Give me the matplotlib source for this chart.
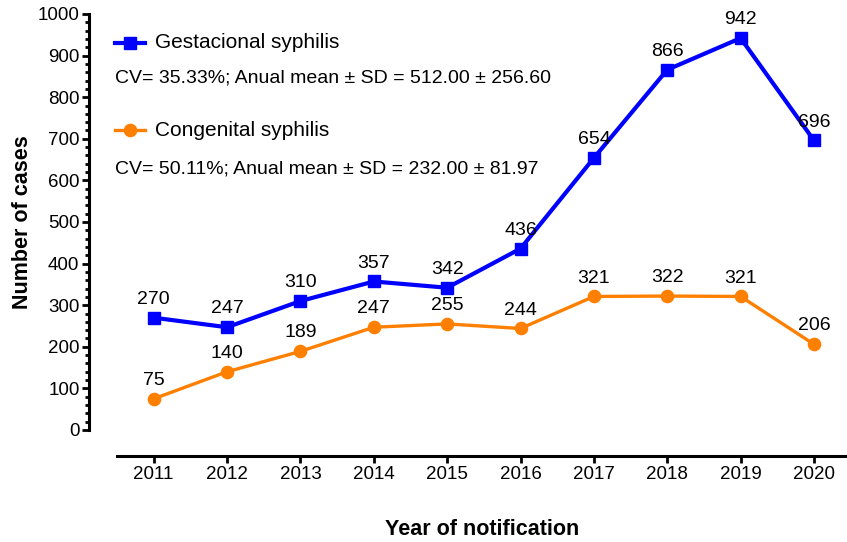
import matplotlib
matplotlib.use("Agg")
import matplotlib.pyplot as plt
from matplotlib.lines import Line2D
from matplotlib.ticker import MultipleLocator

plt.rcParams['font.family'] = ['Liberation Sans', 'DejaVu Sans']

# data
years = [2011, 2012, 2013, 2014, 2015, 2016, 2017, 2018, 2019, 2020]
gestacional = [270, 247, 310, 357, 342, 436, 654, 866, 942, 696]
congenital = [75, 140, 189, 247, 255, 244, 321, 322, 321, 206]
gest_label = "Gestacional syphilis"
cong_label = "Congenital syphilis"
gest_stats = "CV= 35.33%; Anual mean \u00b1 SD = 512.00 \u00b1 256.60"
cong_stats = "CV= 50.11%; Anual mean \u00b1 SD = 232.00 \u00b1 81.97"

blue = "#0000ff"
orange = "#ff8000"

fig = plt.figure(figsize=(8.47, 5.42), dpi=100)
ax = fig.add_axes([117/847, 1 - 430/542, 1 - 117/847, 416/542])

ax.plot(years, gestacional, color=blue, lw=3.0, marker='s', ms=8.2, zorder=3)
ax.plot(years, congenital, color=orange, lw=2.4, marker='o', ms=8.8, zorder=3)

# value labels above points
for x, y in zip(years, gestacional):
    ax.annotate(str(y), (x, y), xytext=(0, 10), textcoords='offset points',
                ha='center', va='baseline', fontsize=14)
for x, y in zip(years, congenital):
    ax.annotate(str(y), (x, y), xytext=(0, 10), textcoords='offset points',
                ha='center', va='baseline', fontsize=14)

ax.set_xlim(2010.5, 2020.45)
ax.set_ylim(0, 1000)
ax.set_xticks(years)
ax.yaxis.set_major_locator(MultipleLocator(100))
ax.yaxis.set_minor_locator(MultipleLocator(20))

# prism-like axes
for s in ['top', 'right']:
    ax.spines[s].set_visible(False)
ax.spines['left'].set_position(('outward', 20))
ax.spines['bottom'].set_position(('outward', 19))
ax.spines['left'].set_linewidth(2.2)
ax.spines['bottom'].set_linewidth(2.2)
ax.tick_params(axis='both', which='major', width=2, length=5, labelsize=13.5, pad=2)
ax.tick_params(axis='y', which='minor', width=2, length=3)
ax.tick_params(axis='x', which='minor', length=0)

ax.set_ylabel("Number of cases", fontsize=15.5, fontweight='bold', labelpad=3)
ax.set_xlabel("Year of notification", fontsize=15.5, fontweight='bold', labelpad=26)

# legend block drawn by hand
def fx(px):
    return px / 847

def fy(py):
    return 1 - py / 542

fig.add_artist(Line2D([fx(115), fx(145)], [fy(43), fy(43)], color=blue, lw=3.0))
fig.add_artist(Line2D([fx(130)], [fy(43)], color=blue, marker='s', ms=8.2))
fig.text(fx(155), fy(43), gest_label, fontsize=15, va='center')
fig.text(fx(115), fy(78), gest_stats, fontsize=14, va='center')

fig.add_artist(Line2D([fx(115), fx(145)], [fy(130), fy(130)], color=orange, lw=2.4))
fig.add_artist(Line2D([fx(130)], [fy(130)], color=orange, marker='o', ms=8.8))
fig.text(fx(155), fy(130), cong_label, fontsize=15, va='center')
fig.text(fx(115), fy(169), cong_stats, fontsize=14, va='center')

fig.savefig("out.png", dpi=100)
